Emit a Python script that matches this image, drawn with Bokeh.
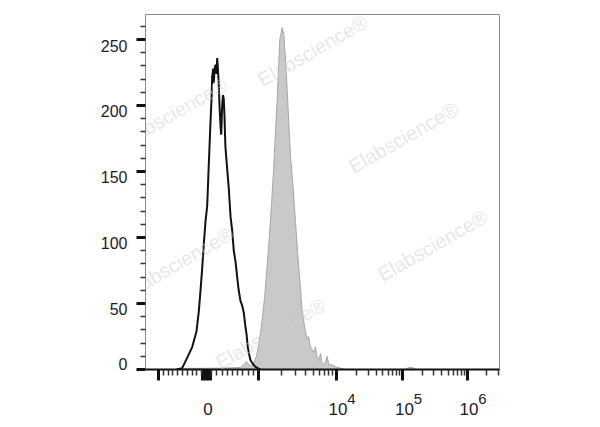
import numpy as np
from bokeh.plotting import figure
from bokeh.models import Range1d, FixedTicker, Label, LinearAxis
from bokeh.embed import file_html
from bokeh.resources import INLINE

# ---------------- data (display channel units, event counts) ----------------
black_x = [1.557, 1.644, 1.721, 1.797, 1.863, 1.898, 1.924, 1.950, 1.974, 2.000,
           2.026, 2.046, 2.076, 2.092, 2.102, 2.118, 2.127, 2.137, 2.153, 2.168,
           2.179, 2.188, 2.203, 2.214, 2.229, 2.240, 2.255, 2.267, 2.279, 2.290,
           2.298, 2.305, 2.331, 2.356, 2.382, 2.408, 2.432, 2.458, 2.484, 2.504,
           2.534, 2.557, 2.585, 2.611, 2.626, 2.646, 2.664, 2.687, 2.728, 2.763,
           2.794, 2.840]
black_y = [0, 1, 9, 17, 29, 44, 60, 77, 95, 112,
           124, 150, 187, 205, 222, 228, 217, 227, 231, 224,
           236, 229, 216, 200, 185, 178, 200, 208, 205, 192,
           178, 168, 152, 137, 116, 105, 90, 82, 70, 61,
           52, 49, 43, 32, 27, 17, 12, 7, 4, 2,
           1, 0]

gray_x = [1.664, 2.229, 2.534, 2.595, 2.626, 2.656, 2.687, 2.733, 2.779, 2.809,
          2.840, 2.870, 2.901, 2.939, 2.977, 3.008, 3.038, 3.069, 3.095, 3.119,
          3.134, 3.150, 3.171, 3.183, 3.195, 3.206, 3.221, 3.247, 3.272, 3.298,
          3.339, 3.374, 3.409, 3.450, 3.476, 3.511, 3.553, 3.573, 3.603, 3.653,
          3.679, 3.705, 3.730, 3.756, 3.779, 3.806, 3.832, 3.858, 3.882, 3.908,
          3.985, 4.061, 4.137, 5.053, 5.099, 5.160, 5.206]
gray_y = [0.8, 1, 1.5, 4, 6, 4, 3, 4.5, 10, 18,
          28, 40, 54, 77, 102, 125, 150, 180, 205, 232,
          250, 254, 259, 255, 256, 246, 236, 212, 187, 162,
          137, 112, 87, 62, 44, 33, 23, 25, 17, 13,
          17, 9, 7, 12, 5, 4, 6, 10, 3, 4,
          2, 1, 0, 0, 1.5, 1.5, 0]

y_ticks = [0, 50, 100, 150, 200, 250]
y_minor = [v for v in range(10, 270, 10) if v % 50]
x_major_values = [-1e3, -80, -60, -40, -20, 0, 20, 40, 60, 80, 1e3, 1e4, 1e5, 1e6]
x_minor_values = ([-100 * k for k in range(1, 10)] + [100 * k for k in range(1, 10)]
                  + [k * 1e3 for k in range(2, 10)] + [k * 1e4 for k in range(2, 10)]
                  + [k * 1e5 for k in range(2, 10)] + [2e6, 3e6])
x_label_values = [0, 1e4, 1e5, 1e6]
x_label_base = ["0", "10", "10", "10"]
x_exp_values = [1e4, 1e5, 1e6]
x_label_exp = ["4", "5", "6"]
watermark = "Elabscience\u00ae"
wm_x = [1.496, 3.634, 5.023, 1.588, 5.466, 2.992]
wm_y = [193.9, 241.5, 175.8, 81.1, 93.9, 27.3]

# ---------------- biexponential-like display scale ----------------
ANCHOR_T = [-1, 0, 1, 2, 3, 4]
ANCHOR_U = [1.282, 2.015, 2.809, 4.0, 5.015, 6.0]


def to_t(v):
    a = abs(v)
    if a <= 1000:
        return v / 1000.0
    return float(np.sign(v) * (1 + np.log10(a / 1000.0)))


def scale(v):
    t = to_t(v)
    if t > ANCHOR_T[-1]:
        return ANCHOR_U[-1] + (t - ANCHOR_T[-1]) * (ANCHOR_U[-1] - ANCHOR_U[-2])
    return float(np.interp(t, ANCHOR_T, ANCHOR_U))


FRAME_W, FRAME_H = 354, 355
X0, X1 = 1.084, 6.489
Y0, Y1 = 0, 269
LABEL_SHIFT = 4.5   # y tick labels sit slightly off their ticks in the original


def px2u(d):
    return d * (X1 - X0) / FRAME_W


FONT = "Liberation Sans"
TXT = "#1c1c1c"

p = figure(frame_width=FRAME_W, frame_height=FRAME_H, output_backend="svg",
           toolbar_location=None, x_range=Range1d(X0, X1), y_range=Range1d(Y0, Y1),
           min_border_left=145, min_border_right=95, min_border_top=14,
           min_border_bottom=50, background_fill_color="white",
           border_fill_color="white")
p.xgrid.visible = False
p.ygrid.visible = False
p.outline_line_color = "#8a8a8a"
p.outline_line_width = 1

# histograms
p.varea(x=gray_x, y1=0, y2=gray_y, fill_color="#c9c9c9")
p.line(gray_x, gray_y, line_color="#a6a6a6", line_width=1)
p.line(black_x, black_y, line_color="#111111", line_width=2)


def label_axis(ticks, texts, size, standoff, side):
    ax = LinearAxis(ticker=FixedTicker(ticks=ticks, minor_ticks=[]))
    ax.major_label_overrides = {t: s for t, s in zip(ticks, texts)}
    ax.axis_line_color = None
    ax.major_tick_out = 0
    ax.major_tick_in = 0
    ax.major_tick_line_color = None
    ax.minor_tick_line_color = None
    ax.major_label_standoff = standoff
    ax.major_label_text_font = FONT
    ax.major_label_text_font_size = size
    ax.major_label_text_color = TXT
    p.add_layout(ax, side)
    return ax


# y axis: ticks only (adjacent to frame)
ya = p.yaxis[0]
ya.ticker = FixedTicker(ticks=y_ticks, minor_ticks=y_minor)
ya.major_label_overrides = {v: "" for v in y_ticks}
ya.major_label_standoff = 0
ya.axis_line_color = "#8a8a8a"
ya.major_tick_out = 9
ya.major_tick_in = 0
ya.major_tick_line_width = 3
ya.major_tick_line_color = "#111111"
ya.minor_tick_out = 5
ya.minor_tick_in = 0
ya.minor_tick_line_width = 1.5
ya.minor_tick_line_color = "#333333"

# y axis labels (outer)
ylab_pos = [v - LABEL_SHIFT if v else LABEL_SHIFT for v in y_ticks]
label_axis(ylab_pos, [str(v) for v in y_ticks], "16px", 9, "left")

# x axis: ticks only
xa = p.xaxis[0]
maj = [scale(v) for v in x_major_values]
xa.ticker = FixedTicker(ticks=maj, minor_ticks=[scale(v) for v in x_minor_values])
xa.major_label_overrides = {m: "" for m in maj}
xa.major_label_standoff = 0
xa.axis_line_color = "#111111"
xa.axis_line_width = 2
xa.major_tick_out = 11
xa.major_tick_in = 0
xa.major_tick_line_width = 3
xa.major_tick_line_color = "#111111"
xa.minor_tick_out = 6
xa.minor_tick_in = 0
xa.minor_tick_line_width = 1.5
xa.minor_tick_line_color = "#333333"

# x labels: exponents first (closer), then bases pulled up beside them
label_axis([scale(v) + px2u(15) for v in x_exp_values], x_label_exp, "15px", 13, "below")
label_axis([scale(v) + px2u(1.5) for v in x_label_values], x_label_base, "17px", -4, "below")

# watermarks
for wx, wy in zip(wm_x, wm_y):
    p.add_layout(Label(x=wx, y=wy, text=watermark, angle=0.52, text_align="center",
                       text_baseline="middle", text_font=FONT, text_font_size="20px",
                       text_color="#cfcfcf", text_alpha=0.5))

open("out.html", "w").write(file_html(p, INLINE))
